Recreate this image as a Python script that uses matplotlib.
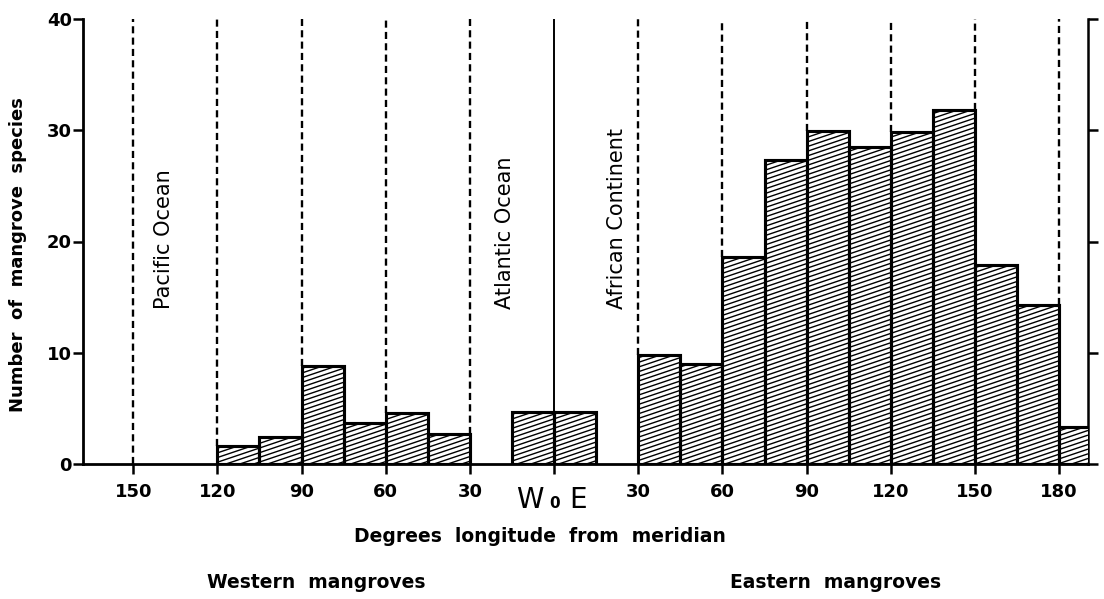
import numpy as np
import matplotlib
matplotlib.use("Agg")
import matplotlib.pyplot as plt
from matplotlib.collections import LineCollection

# mangrove species counts per 15-degree longitude band (west negative)
bin_left = [-120, -105, -90, -75, -60, -45,
            -15, 0,
            30, 45, 60, 75, 90, 105, 120, 135, 150, 165, 180]
species = [1.6, 2.4, 8.8, 3.7, 4.6, 2.7,
           4.7, 4.7,
           9.8, 9.0, 18.6, 27.3, 29.9, 28.5, 29.8, 31.8, 17.9, 14.3, 3.3]
bin_width = 15

divider_lon = [-150, -120, -90, -60, -30, 30, 60, 90, 120, 150, 180]
tick_lon = [-150, -120, -90, -60, -30, 0, 30, 60, 90, 120, 150, 180]
tick_text = ["150", "120", "90", "60", "30", "", "30", "60", "90", "120", "150", "180"]

regions = ["Pacific Ocean", "Atlantic Ocean", "African Continent"]
region_lon = [-139, -17.5, 22.5]

W, H = 1104, 599
XLIM = (-167.9, 190.3)
fig = plt.figure(figsize=(W / 100, H / 100), dpi=100)
ax = fig.add_axes([83 / W, 1 - 464 / H, (1088 - 83) / W, (464 - 19) / H])
ax.set_xlim(*XLIM)
ax.set_ylim(0, 40)

bars = ax.bar(bin_left, species, width=bin_width, align="edge",
              facecolor="white", edgecolor="black", linewidth=2.2, zorder=3)

# shallow diagonal shading inside each bar
slope = 0.085
offsets = np.arange(-35, 42, 0.42)
xs = np.array(XLIM)
segs = [np.column_stack([xs, c + slope * xs]) for c in offsets]
for b in bars:
    lc = LineCollection(segs, colors="black", linewidths=1.0, zorder=3.5)
    ax.add_collection(lc)
    lc.set_clip_path(b)
# redraw outlines on top of shading
ax.bar(bin_left, species, width=bin_width, align="edge",
       facecolor="none", edgecolor="black", linewidth=2.2, zorder=4)

# dashed dividers stop at the top of the neighbouring bars
for x in divider_lon:
    near = [h for l, h in zip(bin_left, species) if l == x or l + bin_width == x]
    lo = max(near) if near else 0
    ax.vlines(x, lo, 40, colors="black", linewidth=1.7,
              linestyles=(0, (3.0, 1.8)), zorder=2)
ax.vlines(0, 0, 40, colors="black", linewidth=1.4, zorder=2)

for name, x in zip(regions, region_lon):
    ax.text(x, 13.9, name, rotation=90, ha="center", va="bottom",
            fontsize=15)

ax.spines["top"].set_visible(False)
ax.spines["left"].set_linewidth(2.0)
ax.spines["right"].set_linewidth(1.8)
ax.spines["bottom"].set_linewidth(2.0)

ax.set_xticks(tick_lon)
ax.set_xticklabels(tick_text, fontweight="bold")
ax.set_yticks([0, 10, 20, 30, 40])
ax.set_yticklabels(["0", "10", "20", "30", "40"], fontweight="bold")
ax.tick_params(axis="x", direction="out", length=7, width=1.8, pad=7,
               labelsize=13)
ax.tick_params(axis="y", direction="out", length=7, width=1.8, pad=1,
               labelsize=13, right=True)

# W 0 E under the meridian
ax.text(-8.5, -2.0, "W", ha="center", va="top", fontsize=20, clip_on=False)
ax.text(0, -2.9, "0", ha="center", va="top", fontsize=11, fontweight="bold",
        clip_on=False)
ax.text(8.5, -2.0, "E", ha="center", va="top", fontsize=20, clip_on=False)

fig.text(540 / W, 1 - 537 / H, "Degrees  longitude  from  meridian",
         ha="center", va="center", fontsize=13.5, fontweight="bold")
fig.text(316 / W, 1 - 583 / H, "Western  mangroves",
         ha="center", va="center", fontsize=13.5, fontweight="bold")
fig.text(836 / W, 1 - 583 / H, "Eastern  mangroves",
         ha="center", va="center", fontsize=13.5, fontweight="bold")
fig.text(18 / W, 1 - 255 / H, "Number  of  mangrove  species", rotation=90,
         ha="center", va="center", fontsize=13, fontweight="bold")

fig.savefig("out.png", dpi=100)
